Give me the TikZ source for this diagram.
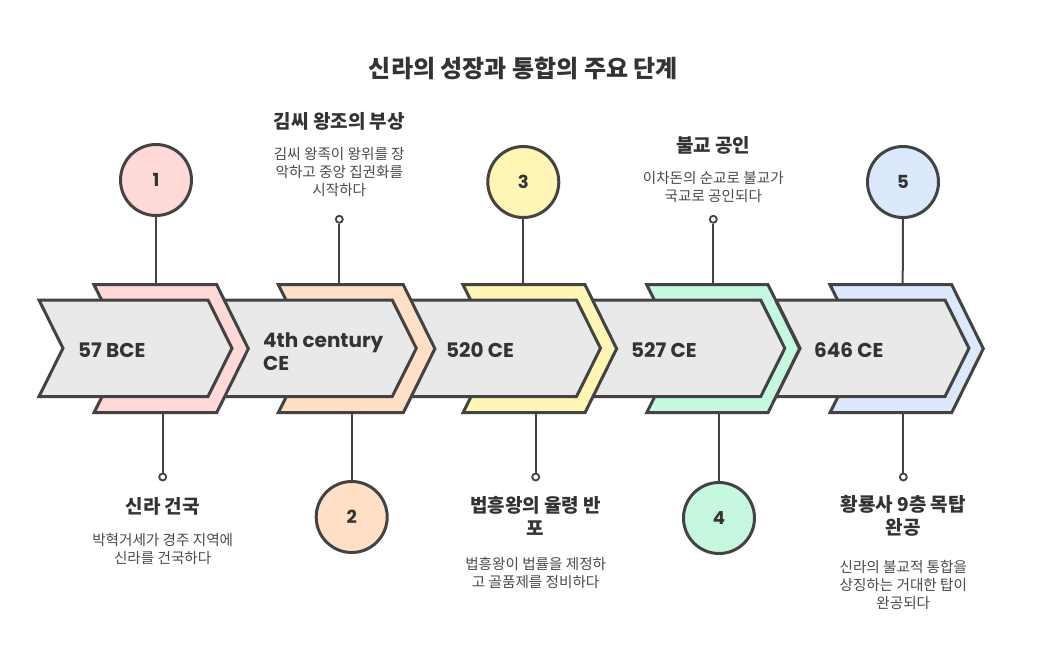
\documentclass[tikz,border=0pt]{standalone}
\usepackage{fontspec}
\newfontfamily\kr{Noto Sans CJK KR}
\newfontfamily\hand{Poppins}
\definecolor{ink}{HTML}{434343}
\definecolor{txt}{HTML}{333333}
\definecolor{desc}{HTML}{4A4A4A}
\definecolor{grayf}{HTML}{E9E9E9}
\definecolor{pinkf}{HTML}{FFD8D8}
\definecolor{orangef}{HTML}{FFE0C6}
\definecolor{yellowf}{HTML}{FFF5B5}
\definecolor{greenf}{HTML}{C6F8E0}
\definecolor{bluef}{HTML}{DCE8FC}
\tikzset{
  chev/.style={draw=ink, line width=3pt, fill=grayf},
  bk/.style={draw=ink, line width=3pt},
  conn/.style={draw=ink, line width=2pt},
  numc/.style={circle, draw=ink, line width=3pt, minimum size=71pt, inner sep=0pt,
    font=\hand\bfseries\fontsize{18}{18}\selectfont, text=txt},
  dotn/.style={circle, draw=ink, line width=1.8pt, fill=white, minimum size=7pt, inner sep=0pt},
  datelbl/.style={anchor=west, inner sep=0pt, align=left, text=txt,
    font=\hand\bfseries\fontsize{20}{23.5}\selectfont},
  head/.style={inner sep=0pt, align=center, text=txt,
    font=\kr\bfseries\fontsize{19}{23}\selectfont},
  descr/.style={inner sep=0pt, align=center, text=desc,
    font=\kr\fontsize{14.6}{18}\selectfont},
  ttl/.style={inner sep=0pt, text=txt, font=\kr\bfseries\fontsize{24}{28}\selectfont}
}
\newcommand\bkshape[3]{%
  \draw[bk, fill=#3] (#1,284.7) -- (#2,284.7) -- ({#2+31.6},348.7) -- (#2,412.7)
    -- (#1,412.7) -- ({#1+32},348.7) -- cycle;}
\newcommand\grshape[1]{%
  \draw[chev] (#1,300) -- ({#1+169},300) -- ({#1+193},348.25) -- ({#1+169},396.5)
    -- (#1,396.5) -- ({#1+24},348.25) -- cycle;}
\begin{document}
\begin{tikzpicture}[x=1pt,y=-1pt]
\useasboundingbox (0,0) rectangle (1047,649);
\fill[white] (0,0) rectangle (1047,649);

% title
\node[ttl] (title) at (523.5,68) {신라의 성장과 통합의 주요 단계};

% chevrons, drawn from right to left
\bkshape{830}{951.7}{bluef}
\grshape{776}
\bkshape{646.7}{768}{greenf}
\grshape{591.8}
\bkshape{463}{585}{yellowf}
\grshape{407.5}
\bkshape{278.3}{403.3}{orangef}
\grshape{223.3}
\bkshape{94}{216.7}{pinkf}
\grshape{39}

% date labels
\node[datelbl] (l1) at (78,350.5) {57 BCE};
\node[datelbl] (l2) at (263,351.5) {4th century\\CE};
\node[datelbl] (l3) at (446,350.5) {520 CE};
\node[datelbl] (l4) at (631,350.5) {527 CE};
\node[datelbl] (l5) at (814,350.5) {646 CE};

% anchor points on the shapes
\coordinate (t1) at (156,284.7);
\coordinate (t2) at (339.3,284.7);
\coordinate (t3) at (523.3,284.7);
\coordinate (t4) at (713.3,284.7);
\coordinate (t5) at (902.7,284.7);
\coordinate (b1) at (162.7,412.7);
\coordinate (b2) at (351.7,412.7);
\coordinate (b3) at (535.7,412.7);
\coordinate (b4) at (719,412.7);
\coordinate (b5) at (903.3,412.7);

% numbered circles
\node[numc, fill=pinkf] (c1) at (156,180) {1};
\node[numc, fill=orangef] (c2) at (351.7,517) {2};
\node[numc, fill=yellowf] (c3) at (523.3,182) {3};
\node[numc, fill=greenf] (c4) at (719,518) {4};
\node[numc, fill=bluef] (c5) at (903,182) {5};

% small dots
\node[dotn] (p1) at (162.7,477) {};
\node[dotn] (p2) at (339.3,219.3) {};
\node[dotn] (p3) at (535.7,477) {};
\node[dotn] (p4) at (713.3,219.3) {};
\node[dotn] (p5) at (903.3,477) {};

% connectors
\draw[conn] (c1) -- (t1);
\draw[conn] (p2) -- (t2);
\draw[conn] (c3) -- (t3);
\draw[conn] (p4) -- (t4);
\draw[conn] (c5) -- (t5);
\draw[conn] (b1) -- (p1);
\draw[conn] (b2) -- (c2);
\draw[conn] (b3) -- (p3);
\draw[conn] (b4) -- (c4);
\draw[conn] (b5) -- (p5);

% texts
\node[head] (h1) at (162.7,506.7) {신라 건국};
\node[descr] (d1) at (162.7,548.5) {박혁거세가 경주 지역에\\신라를 건국하다};
\node[head] (h2) at (339.3,121.7) {김씨 왕조의 부상};
\node[descr] (d2) at (339.3,172.5) {김씨 왕족이 왕위를 장\\악하고 중앙 집권화를\\시작하다};
\node[head] (h3) at (535.7,516) {법흥왕의 율령 반\\포};
\node[descr] (d3) at (535.7,573) {법흥왕이 법률을 제정하\\고 골품제를 정비하다};
\node[head] (h4) at (713.3,145) {불교 공인};
\node[descr] (d4) at (713.3,186.7) {이차돈의 순교로 불교가\\국교로 공인되다};
\node[head] (h5) at (903.3,516) {황룡사 9층 목탑\\완공};
\node[descr] (d5) at (903.3,585) {신라의 불교적 통합을\\상징하는 거대한 탑이\\완공되다};
\end{tikzpicture}
\end{document}
